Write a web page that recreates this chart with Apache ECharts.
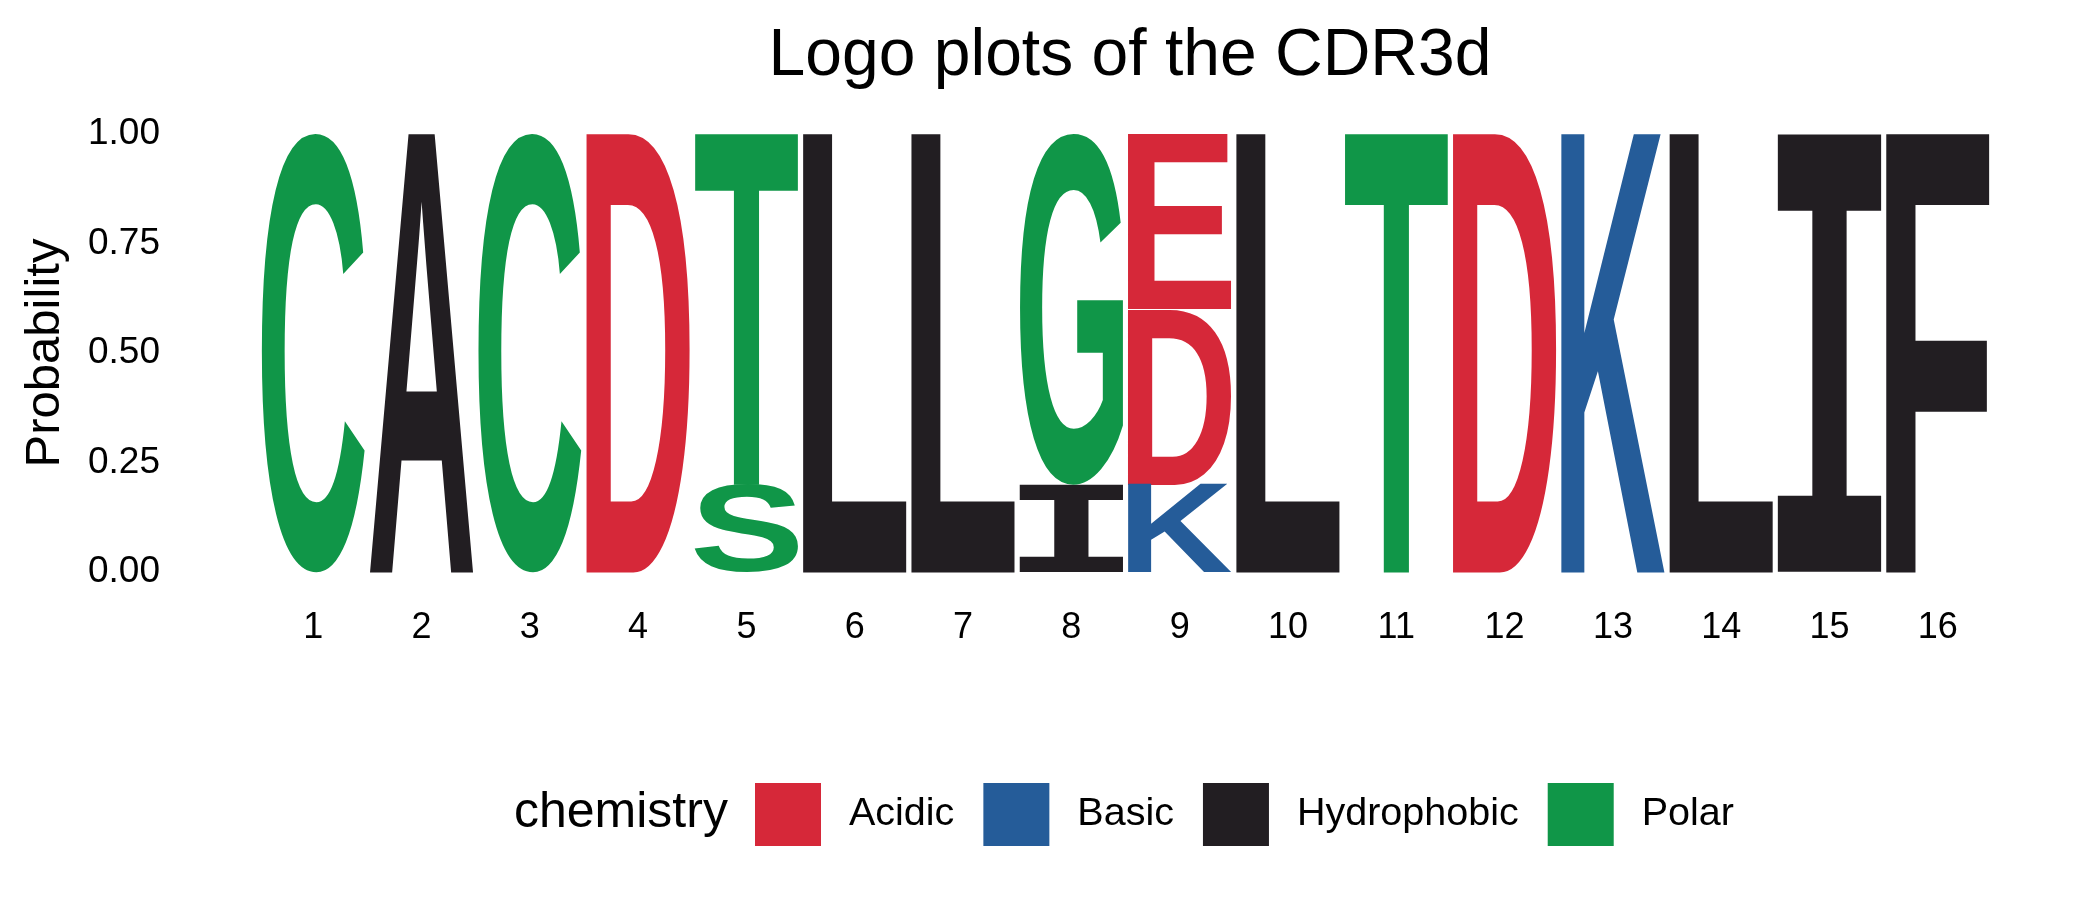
<!DOCTYPE html>
<html>
<head>
<meta charset="utf-8">
<script src="https://cdn.jsdelivr.net/npm/echarts@6/dist/echarts.min.js"></script>
<style>
html,body{margin:0;padding:0;background:#fff;}
#chart{width:2100px;height:900px;}
</style>
</head>
<body>
<div id="chart"></div>
<script>
// ---- data ----
const positions = ['1','2','3','4','5','6','7','8','9','10','11','12','13','14','15','16'];
const yTicks = [0, 0.25, 0.5, 0.75, 1];
// letters, listed bottom-to-top within each position
const letters     = ['C','A','C','D','S','T','L','L','I','G','K','D','E','L','T','D','K','L','I','F'];
const letterPos   = [ 1,  2,  3,  4,  5,  5,  6,  7,  8,  8,  9,  9,  9, 10, 11, 12, 13, 14, 15, 16];
const letterProb  = [1.0,1.0,1.0,1.0,0.2,0.8,1.0,1.0,0.2,0.8,0.2,0.4,0.4,1.0,1.0,1.0,1.0,1.0,1.0,1.0];
const groupNames  = ['Acidic','Basic','Hydrophobic','Polar'];
const groupColors = ['#D62839','#255C99','#221E22','#109648'];
const groupLetters = [['D','E'],['K','R','H'],['A','V','L','I','P','W','F','M'],['G','S','T','Y','C']];

// ---- glyph metrics (measured from the rendered glyph's ink) ----
const GLYPH_SIZE = 400;
function glyphFamily(ch){
  return ch === 'I' ? 'DejaVu Sans Mono' : 'Liberation Sans';
}
function glyphFont(ch){
  return 'bold ' + GLYPH_SIZE + "px '" + glyphFamily(ch) + "'";
}
const MC = 1000, OX = 250, OY = 500;
const mcanvas = document.createElement('canvas');
mcanvas.width = MC; mcanvas.height = MC;
const mctx = mcanvas.getContext('2d', {willReadFrequently: true});
const metricsCache = {};
function glyphMetrics(ch){
  if (metricsCache[ch]) return metricsCache[ch];
  mctx.clearRect(0, 0, MC, MC);
  mctx.font = glyphFont(ch);
  mctx.textBaseline = 'middle';
  mctx.textAlign = 'left';
  mctx.fillStyle = '#000';
  mctx.fillText(ch, OX, OY);
  const d = mctx.getImageData(0, 0, MC, MC).data;
  let minX = MC, maxX = -1, minY = MC, maxY = -1;
  for (let y = 0; y < MC; y++) {
    for (let x = 0; x < MC; x++) {
      if (d[(y * MC + x) * 4 + 3] >= 128) {
        if (x < minX) minX = x;
        if (x > maxX) maxX = x;
        if (y < minY) minY = y;
        if (y > maxY) maxY = y;
      }
    }
  }
  let r;
  if (maxX < 0) {
    const m = mctx.measureText(ch);
    r = {l: m.actualBoundingBoxLeft, r: m.actualBoundingBoxRight, a: m.actualBoundingBoxAscent, d: m.actualBoundingBoxDescent};
  } else {
    r = {l: OX - minX, r: maxX + 1 - OX, a: OY - minY, d: maxY + 1 - OY};
  }
  metricsCache[ch] = r;
  return r;
}

// stack letters per position
const stackBase = {};
const seriesData = groupNames.map(() => []);
letters.forEach((ch, i) => {
  const p = letterPos[i];
  const b = stackBase[p] || 0;
  const t = b + letterProb[i];
  stackBase[p] = t;
  const g = groupLetters.findIndex(arr => arr.indexOf(ch) >= 0);
  seriesData[g].push([p - 1, b, t, i]);
});

function renderItem(params, api){
  const xi = api.value(0);
  const y0 = api.value(1);
  const y1 = api.value(2);
  const li = api.value(3);
  const ch = letters[li];
  const pb = api.coord([xi, y0]);
  const pt = api.coord([xi, y1]);
  const band = api.size([1, 0])[0];
  const w = band * 0.95;
  const h = pb[1] - pt[1];
  const left = pb[0] - w / 2;
  const top = pt[1];
  const m = glyphMetrics(ch);
  const sx = w / (m.l + m.r);
  const sy = h / (m.a + m.d);
  return {
    type: 'text',
    x: left + m.l * sx,
    y: top + m.a * sy,
    scaleX: sx,
    scaleY: sy,
    silent: true,
    style: {
      text: ch,
      x: 0, y: 0,
      font: glyphFont(ch),
      fontSize: GLYPH_SIZE,
      fontWeight: 'bold',
      fontFamily: glyphFamily(ch),
      fill: api.visual('color'),
      align: 'left',
      verticalAlign: 'middle'
    }
  };
}

const chart = echarts.init(document.getElementById('chart'), null, {renderer: 'canvas'});
const FONT = "'Liberation Sans', Arial, sans-serif";

const option = {
  backgroundColor: '#ffffff',
  animation: false,
  title: {
    text: 'Logo plots of the CDR3d',
    left: 1125,
    top: 19,
    textAlign: 'center',
    textStyle: {fontFamily: FONT, fontSize: 66, fontWeight: 'normal', color: '#000'}
  },
  legend: {
    left: 750,
    top: 778,
    orient: 'horizontal',
    icon: 'rect',
    itemWidth: 66,
    itemHeight: 63,
    itemGap: 29,
    selectedMode: false,
    data: groupNames,
    textStyle: {fontFamily: FONT, fontSize: 39.5, color: '#000', padding: [0,0,0,23]}
  },
  graphic: [{
    type: 'text',
    left: 514,
    top: 815 - 27,
    style: {text: 'chemistry', fontFamily: FONT, fontSize: 50, fill: '#000'}
  }],
  grid: {left: 259, right: 108, top: 134, bottom: 328},
  xAxis: {
    type: 'category',
    data: positions,
    axisLine: {show: false},
    axisTick: {show: false},
    splitLine: {show: false},
    axisLabel: {fontFamily: FONT, fontSize: 36, color: '#000', margin: 38}
  },
  yAxis: {
    type: 'value',
    min: 0, max: 1, interval: 0.25,
    name: 'Probability',
    nameLocation: 'middle',
    nameGap: 189,
    nameTextStyle: {fontFamily: FONT, fontSize: 49, color: '#000'},
    axisLine: {show: false},
    axisTick: {show: false},
    splitLine: {show: false},
    axisLabel: {fontFamily: FONT, fontSize: 37, color: '#000', margin: 99,
      formatter: v => (yTicks.indexOf(v) >= 0 ? v.toFixed(2) : '')}
  },
  series: groupNames.map((name, g) => ({
    type: 'custom',
    name: name,
    renderItem: renderItem,
    itemStyle: {color: groupColors[g]},
    encode: {x: 0, y: [1, 2]},
    data: seriesData[g],
    silent: true
  }))
};
chart.setOption(option);
</script>
</body>
</html>
